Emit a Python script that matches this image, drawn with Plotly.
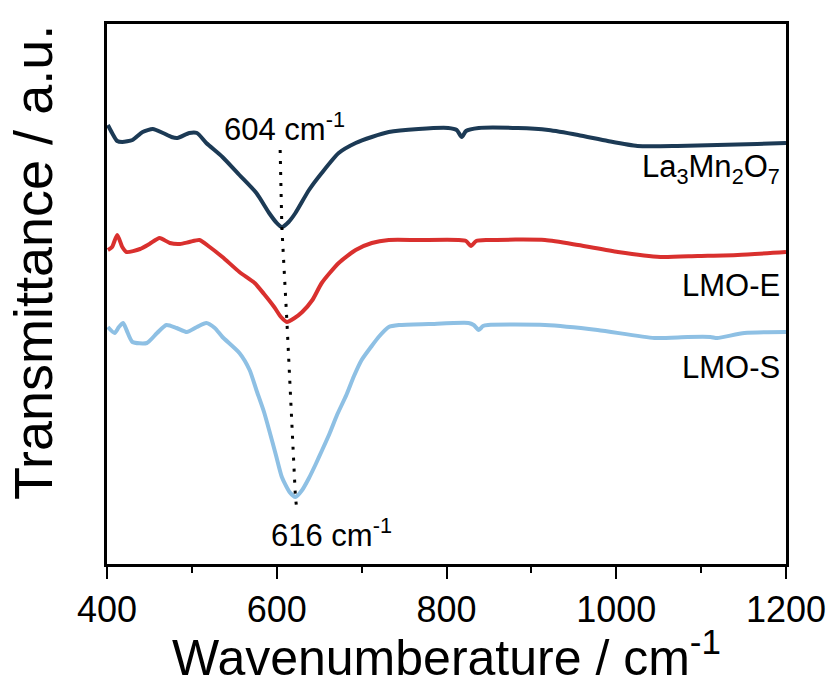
import plotly.graph_objects as go

# ---- data (wavenumber in cm^-1, transmittance in a.u., curves offset) ----
wn_la = [401, 406, 412, 418, 430, 442, 454, 466, 476, 483, 497, 506, 517, 536, 556, 576, 591, 599, 606, 614,
         622, 638, 653, 673, 693, 712, 732, 767, 802, 812, 818, 823, 838, 884, 920, 955, 990, 1025, 1072,
         1119, 1166, 1200]
t_la = [4.39, 4.31, 4.23, 4.22, 4.24, 4.32, 4.35, 4.31, 4.27, 4.26, 4.31, 4.31, 4.21, 4.07, 3.89, 3.71, 3.51,
        3.42, 3.37, 3.42, 3.51, 3.74, 3.91, 4.11, 4.21, 4.27, 4.32, 4.35, 4.36, 4.34, 4.27, 4.33, 4.36, 4.36,
        4.34, 4.29, 4.23, 4.18, 4.18, 4.19, 4.20, 4.21]

wn_e = [401, 406, 412, 418, 423, 439, 450, 462, 474, 486, 497, 509, 521, 536, 556, 574, 585, 597, 605, 612,
        621, 630, 642, 653, 673, 693, 712, 732, 767, 814, 823, 829, 835, 849, 916, 955, 1002, 1052, 1096,
        1143, 1200]
t_e = [3.14, 3.17, 3.29, 3.17, 3.12, 3.15, 3.20, 3.26, 3.21, 3.20, 3.22, 3.24, 3.17, 3.07, 2.92, 2.81, 2.70,
       2.57, 2.47, 2.42, 2.46, 2.52, 2.64, 2.81, 3.01, 3.14, 3.21, 3.24, 3.24, 3.24, 3.23, 3.18, 3.23, 3.24,
       3.24, 3.19, 3.12, 3.07, 3.08, 3.09, 3.12]

wn_s = [401, 409, 414, 419, 423, 430, 447, 459, 470, 482, 494, 506, 517, 527, 536, 556, 568, 576, 585, 591,
        599, 606, 615, 622, 630, 638, 646, 653, 662, 671, 682, 691, 700, 711, 720, 732, 744, 779, 826, 832,
        838, 843, 849, 916, 978, 1045, 1084, 1111, 1119, 1151, 1200]
t_s = [2.37, 2.31, 2.37, 2.41, 2.34, 2.22, 2.21, 2.31, 2.39, 2.36, 2.32, 2.37, 2.41, 2.36, 2.27, 2.11, 1.94,
       1.74, 1.52, 1.34, 1.09, 0.87, 0.72, 0.67, 0.74, 0.86, 1.00, 1.13, 1.30, 1.49, 1.69, 1.88, 2.04, 2.17,
       2.27, 2.37, 2.39, 2.40, 2.41, 2.39, 2.34, 2.38, 2.39, 2.39, 2.34, 2.26, 2.27, 2.27, 2.26, 2.31, 2.32]

# peak-guide (dotted) line through the minima
wn_guide = [604, 606, 612, 622, 624]
t_guide = [4.14, 3.37, 2.42, 0.67, 0.52]

names = ["La<sub>3</sub>Mn<sub>2</sub>O<sub>7</sub>", "LMO-E", "LMO-S"]
colors = ["#1c3a55", "#d9302e", "#8ec0e4"]
label_y = [3.95, 2.79, 1.97]

FONT = "Arial, Liberation Sans, sans-serif"

fig = go.Figure()
for wn, t, c in zip([wn_la, wn_e, wn_s], [t_la, t_e, t_s], colors):
    fig.add_trace(go.Scatter(x=wn, y=t, mode="lines", line=dict(color=c, width=4, shape="spline", smoothing=0.6),
                             showlegend=False))

fig.add_trace(go.Scatter(x=wn_guide, y=t_guide, mode="lines",
                         line=dict(color="black", width=3, dash="3px,8px"), showlegend=False))

for n, y in zip(names, label_y):
    fig.add_annotation(x=1, xref="paper", y=y, yref="y", text=n, showarrow=False,
                       xanchor="right", yanchor="middle", xshift=-4,
                       font=dict(family=FONT, size=31, color="black"))

fig.add_annotation(x=536, y=4.37, text="604 cm<sup>-1</sup>", showarrow=False, xanchor="left",
                   yanchor="middle", font=dict(family=FONT, size=31, color="black"))
fig.add_annotation(x=591, y=0.31, text="616 cm<sup>-1</sup>", showarrow=False, xanchor="left",
                   yanchor="middle", font=dict(family=FONT, size=31, color="black"))

# y-axis title (placed as rotated text, as in the reference it sits above the plot centre)
fig.add_annotation(x=-0.11, xref="paper", y=0.558, yref="paper", text="Transmittance / a.u.",
                   textangle=-90, showarrow=False, xanchor="center", yanchor="middle",
                   font=dict(family=FONT, size=54, color="black"))

fig.update_layout(
    width=838, height=686,
    margin=dict(l=107, r=48, t=24, b=122),
    paper_bgcolor="white", plot_bgcolor="white",
    font=dict(family=FONT, color="black"),
    xaxis=dict(range=[400, 1200], tickvals=[400, 600, 800, 1000, 1200], ticks="outside", ticklen=12,
               tickwidth=2, tickcolor="black", showline=True, linewidth=2.5, linecolor="black", mirror=True,
               showgrid=False, zeroline=False, tickfont=dict(size=36),
               minor=dict(tickvals=[500, 700, 900, 1100], ticks="outside", ticklen=6, tickwidth=2,
                          tickcolor="black", showgrid=False),
               title=dict(text="Wavenumberature / cm<sup>-1</sup>", font=dict(size=50), standoff=6)),
    yaxis=dict(range=[0, 5.4], showticklabels=False, ticks="", showline=True, linewidth=2.5,
               linecolor="black", mirror=True, showgrid=False, zeroline=False),
)

fig.write_html("out.html")
